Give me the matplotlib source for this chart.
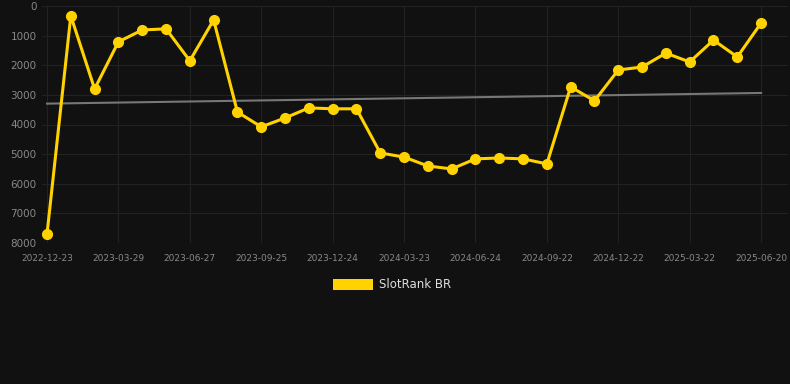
import numpy as np
import matplotlib.pyplot as plt
from matplotlib.patches import Patch

# 1. Data (rank values, lower is better)
ranks = [7700, 330, 2800, 1210, 810, 770, 1850, 470, 3580, 4080,
         3780, 3440, 3470, 3470, 4960, 5100, 5400, 5500, 5160, 5130,
         5160, 5330, 2730, 3200, 2160, 2060, 1590, 1890, 1150, 1720, 575]
tick_labels = ['2022-12-23', '2023-03-29', '2023-06-27', '2023-09-25',
               '2023-12-24', '2024-03-23', '2024-06-24', '2024-09-22',
               '2024-12-22', '2025-03-22', '2025-06-20']
y_ticks = [0, 1000, 2000, 3000, 4000, 5000, 6000, 7000, 8000]

x = np.arange(len(ranks))
coef = np.polyfit(x, ranks, 1)
trend = np.polyval(coef, x)

# 2. Make a plot
bg = '#111111'
fig = plt.figure(figsize=(7.9, 3.84), dpi=100, facecolor=bg)
ax = fig.add_axes([42/790, 1-243/384, 746/790, 237/384], facecolor=bg)

ax.plot(x, trend, color='#777777', linewidth=1.5, zorder=2)
ax.plot(x, ranks, color='#FFD200', linewidth=2.2, marker='o',
        markersize=7, zorder=3)

ax.set_xlim(-0.21, 31.13)
ax.set_ylim(8000, 0)
ax.set_xticks(x[::3])
ax.set_xticklabels(tick_labels)
ax.set_yticks(y_ticks)

ax.grid(True, color='#222222', linewidth=0.8)
ax.set_axisbelow(True)
for s in ax.spines.values():
    s.set_visible(False)
ax.tick_params(axis='x', colors='#888888', labelsize=6.5, length=0, pad=8)
ax.tick_params(axis='y', colors='#888888', labelsize=7.5, length=0, pad=4)

# legend
leg = fig.legend(handles=[Patch(facecolor='#FFD200', label='SlotRank BR')],
                 loc='center', bbox_to_anchor=(392/790, 1-285/384),
                 frameon=False, fontsize=8.5, handlelength=3.4,
                 handleheight=1.0, handletextpad=0.5)
for t in leg.get_texts():
    t.set_color('#dddddd')

# 3. Save
fig.savefig('out.png', dpi=100, facecolor=bg)
